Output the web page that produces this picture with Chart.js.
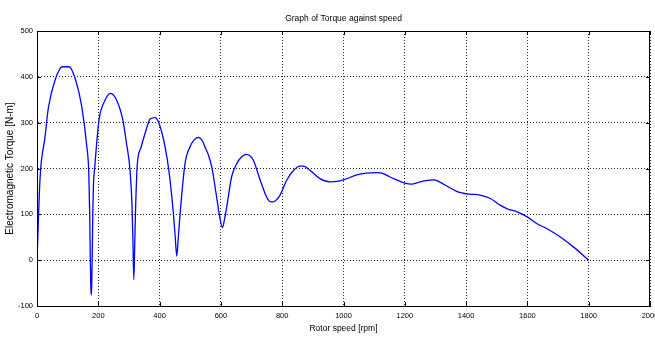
<!DOCTYPE html>
<html>
<head>
<meta charset="utf-8">
<script src="https://cdn.jsdelivr.net/npm/chart.js@4/dist/chart.umd.min.js"></script>
<style>
  html, body { margin: 0; padding: 0; background: #fff; }
</style>
</head>
<body>
<canvas id="torqueChart" width="655" height="338"></canvas>
<script>
// Data
var speed = [0, 10, 26, 37, 59, 83, 105, 126, 146, 162, 169, 172, 174, 175.5, 177, 178.5, 180, 182, 184, 189,
    195, 203, 222, 240, 260, 280, 292, 303, 310, 313, 316, 319, 322, 327, 339, 356, 369, 385, 396, 412,
    425, 434, 445, 451, 456, 461, 467, 483, 499, 512, 526, 540, 548, 560, 570, 586, 596, 605, 612, 619,
    635, 652, 667, 682, 695, 706, 728, 749, 760, 771, 782, 793, 815, 836, 858, 870, 891, 923, 956, 980,
    1000, 1043, 1075, 1108, 1130, 1150, 1174, 1200, 1222, 1250, 1275, 1293, 1310, 1326, 1350, 1369, 1391, 1413, 1445, 1478,
    1511, 1538, 1565, 1598, 1630, 1663, 1706, 1750, 1800];
var torque = [0, 179, 268, 332, 393, 422, 422, 393, 335, 251, 190, 100, 0, -55, -76, -55, 0, 100, 160, 208,
    258, 309, 349, 364, 349, 306, 255, 200, 120, 40, -42, 40, 120, 207, 245, 284, 308, 311, 302, 266,
    220, 175, 102, 50, 9, 50, 102, 211, 247, 262, 268, 260, 247, 228, 204, 138, 95, 71, 90, 116,
    182, 211, 225, 231, 228, 218, 175, 138, 128, 127, 132, 142, 175, 195, 205, 205, 196, 178, 171, 172,
    175, 186, 190, 191, 189, 182, 175, 168, 166, 171, 174, 175, 172, 166, 157, 150, 146, 144, 142, 135,
    120, 111, 106, 95, 80, 69, 51, 29, 0];

var xTicks = { min: 0, max: 2000, step: 200 };
var yTicks = { min: -100, max: 500, step: 100 };

var points = speed.map((s, i) => ({ x: s, y: torque[i] }));

var fontFamily = "'Liberation Sans', Arial, sans-serif";

// box round the axes and the small inward tick marks
const axesBox = {
    id: 'axesBox',
    afterDraw(chart) {
        const ctx = chart.ctx;
        const a = chart.chartArea;
        const xs = chart.scales.x, ys = chart.scales.y;
        ctx.save();
        ctx.strokeStyle = '#000';
        ctx.lineWidth = 1;
        ctx.strokeRect(a.left + 0.5, a.top + 0.5, a.right - a.left - 1, a.bottom - a.top);
        ctx.beginPath();
        xs.ticks.forEach(t => {
            let px = Math.round(xs.getPixelForValue(t.value)) + 0.5;
            ctx.moveTo(px, a.bottom); ctx.lineTo(px, a.bottom - 4);
            ctx.moveTo(px, a.top); ctx.lineTo(px, a.top + 4);
        });
        ys.ticks.forEach(t => {
            let py = Math.round(ys.getPixelForValue(t.value)) + 0.5;
            ctx.moveTo(a.left, py); ctx.lineTo(a.left + 4, py);
            ctx.moveTo(a.right, py); ctx.lineTo(a.right - 4, py);
        });
        ctx.stroke();
        ctx.restore();
    }
};

const ctx = document.getElementById('torqueChart').getContext('2d');
const myChart = new Chart(ctx, {
    type: 'line',
    data: {
        datasets: [{
            label: 'Torque',
            data: points,
            borderColor: '#0000ff',
            borderWidth: 1.3,
            pointRadius: 0,
            cubicInterpolationMode: 'monotone',
            fill: false
        }]
    },
    options: {
        responsive: false,
        animation: false,
        layout: { padding: { left: 0, right: 5, top: 0, bottom: 0 } },
        plugins: {
            legend: { display: false },
            tooltip: { enabled: false }
        },
        scales: {
            x: {
                type: 'linear',
                min: xTicks.min,
                max: xTicks.max,
                afterFit: scale => {
                    scale.height = 32;
                    scale.paddingLeft = 0;
                    scale.paddingRight = 0;
                },
                ticks: {
                    stepSize: xTicks.step,
                    color: '#000',
                    padding: 5,
                    maxRotation: 0,
                    font: { family: fontFamily, size: 7.5 },
                    callback: v => String(v)
                },
                grid: { color: '#222', drawTicks: false },
                border: { display: true, color: '#000', dash: [1, 2] },
                title: {
                    display: true,
                    text: 'Rotor speed [rpm]',
                    color: '#000',
                    font: { family: fontFamily, size: 8.5 },
                    padding: { top: 4, bottom: 4 }
                }
            },
            // top axis only carries the chart title, centred over the plot
            xTop: {
                type: 'linear',
                position: 'top',
                min: xTicks.min,
                max: xTicks.max,
                afterFit: scale => {
                    scale.height = 31;
                    scale.paddingLeft = 0;
                    scale.paddingRight = 0;
                },
                ticks: { display: false },
                grid: { display: false, drawTicks: false },
                border: { display: false },
                title: {
                    display: true,
                    text: 'Graph of Torque against speed',
                    color: '#000',
                    font: { family: fontFamily, size: 8.5 },
                    padding: { top: 14, bottom: 0 }
                }
            },
            y: {
                min: yTicks.min,
                max: yTicks.max,
                afterFit: scale => { scale.width = 37; },
                ticks: {
                    stepSize: yTicks.step,
                    color: '#000',
                    padding: 4,
                    font: { family: fontFamily, size: 7.5 },
                    callback: v => String(v)
                },
                grid: { color: '#222', drawTicks: false },
                border: { display: true, color: '#000', dash: [1, 2] },
                title: {
                    display: true,
                    text: 'Electromagnetic Torque [N-m]',
                    color: '#000',
                    font: { family: fontFamily, size: 10 },
                    padding: { top: 4, bottom: 4 }
                }
            }
        }
    },
    plugins: [axesBox]
});
</script>
</body>
</html>
